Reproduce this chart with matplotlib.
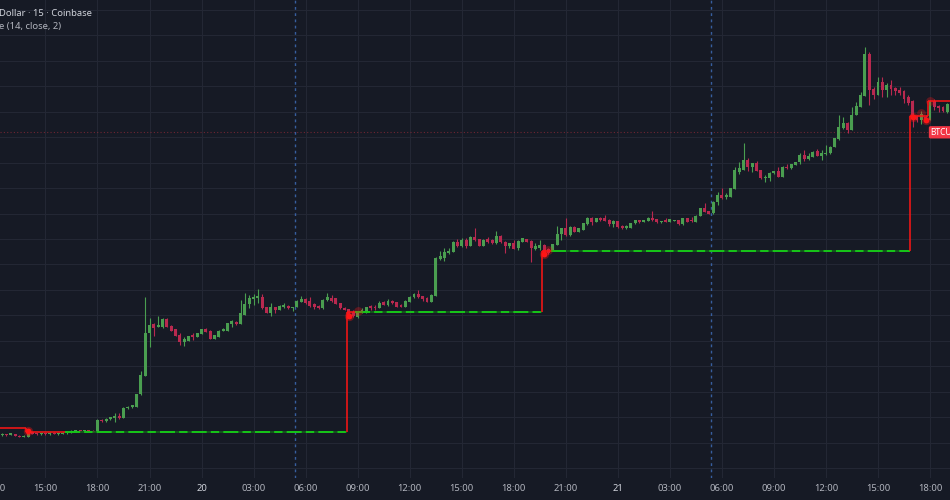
import matplotlib
matplotlib.use("Agg")
import matplotlib.pyplot as plt
import matplotlib.transforms as mtransforms
import numpy as np
import pandas as pd

# BTC/USD 15 min candles, 19 Nov 12:30 -> 21 Nov 19:00
opens = [91140, 91160, 91150, 91160, 91130, 91110, 91110, 91200, 91180, 91160,
         91180, 91160, 91190, 91160, 91170, 91180, 91200, 91220, 91240, 91220,
         91240, 91230, 91210, 91445, 91415, 91454, 91474, 91513, 91483, 91670,
         91690, 91709, 91945, 92318, 93144, 93321, 93271, 93262, 93438, 93291,
         93226, 93114, 92977, 93002, 93114, 93081, 93134, 93226, 93199, 93042,
         93081, 93193, 93199, 93330, 93376, 93324, 93507, 93723, 93816, 93835,
         93867, 93659, 93552, 93670, 93606, 93659, 93684, 93639, 93659, 93769,
         93816, 93776, 93723, 93684, 93639, 93802, 93835, 93835, 93737, 93645,
         93619, 93566, 93462, 93560, 93560, 93690, 93670, 93639, 93757, 93704,
         93782, 93757, 93704, 93670, 93769, 93855, 93920, 93881, 93847, 93769,
         93887, 94608, 94633, 94720, 94751, 94948, 94869, 94981, 94869, 95046,
         95001, 94869, 95001, 94981, 94916, 95066, 94948, 94869, 94916, 94818,
         94948, 95001, 94961, 94804, 94818, 94883, 94804, 94785, 94883, 95093,
         95211, 95079, 95242, 95144, 95177, 95290, 95419, 95341, 95419, 95407,
         95374, 95290, 95354, 95262, 95211, 95223, 95309, 95374, 95341, 95354,
         95419, 95394, 95329, 95374, 95341, 95354, 95374, 95290, 95407, 95374,
         95341, 95458, 95616, 95551, 95506, 95734, 95865, 95832, 95832, 95983,
         96323, 96357, 96553, 96421, 96488, 96357, 96205, 96205, 96292, 96337,
         96225, 96421, 96390, 96455, 96508, 96651, 96573, 96618, 96730, 96638,
         96665, 96685, 96814, 96960, 97176, 97286, 97143, 97437, 97600, 97811,
         98636, 97942, 97830, 98091, 97929, 98027, 97961, 97929, 97914, 97785,
         97718, 97418, 97339, 97404, 97339, 97718, 97614, 97600, 97496]
highs = [91180, 91170, 91190, 91170, 91140, 91140, 91230, 91210, 91190, 91190,
         91190, 91200, 91200, 91190, 91200, 91220, 91240, 91250, 91250, 91250,
         91250, 91240, 91455, 91464, 91483, 91503, 91591, 91582, 91690, 91719,
         91739, 91955, 92397, 93851, 93449, 93350, 93488, 93448, 93448, 93301,
         93232, 93148, 93081, 93104, 93148, 93154, 93232, 93242, 93212, 93114,
         93212, 93242, 93350, 93409, 93389, 93802, 93945, 93900, 93920, 94012,
         93920, 93664, 93737, 93674, 93694, 93737, 93694, 93674, 93792, 93881,
         93835, 93855, 93749, 93694, 93812, 93934, 93900, 93841, 93743, 93655,
         93625, 93606, 93576, 93639, 93674, 93704, 93704, 93782, 93782, 93822,
         93802, 93763, 93714, 93792, 93881, 93934, 93999, 93887, 93867, 93910,
         94647, 94765, 94818, 94818, 94961, 95001, 95014, 95014, 95060, 95223,
         95010, 94991, 95046, 94991, 95158, 95073, 94952, 94922, 94981, 94981,
         95020, 95010, 94981, 94916, 94981, 94893, 94818, 94902, 95262, 95217,
         95407, 95250, 95250, 95217, 95315, 95427, 95439, 95413, 95427, 95472,
         95394, 95374, 95360, 95270, 95270, 95315, 95380, 95380, 95380, 95427,
         95551, 95400, 95360, 95419, 95400, 95380, 95380, 95413, 95413, 95439,
         95466, 95610, 95702, 95557, 95741, 95930, 95997, 95899, 96003, 96421,
         96508, 96881, 96586, 96494, 96533, 96362, 96258, 96311, 96343, 96421,
         96429, 96469, 96474, 96514, 96685, 96750, 96685, 96724, 96769, 96750,
         96848, 96822, 96985, 97437, 97392, 97306, 97600, 97699, 97895, 98768,
         98681, 97994, 98189, 98189, 98060, 98125, 97994, 97994, 97929, 97830,
         97732, 97437, 97522, 97437, 97732, 97746, 97634, 97614, 97673]
lows = [91130, 91130, 91140, 91120, 91100, 91100, 91100, 91160, 91150, 91150,
        91150, 91150, 91160, 91150, 91160, 91170, 91190, 91210, 91210, 91210,
        91210, 91200, 91200, 91405, 91395, 91444, 91395, 91464, 91474, 91660,
        91680, 91699, 91935, 92299, 92878, 93104, 93262, 93252, 93271, 93193,
        93095, 92918, 92898, 92987, 93016, 93075, 93124, 93173, 93036, 93026,
        93075, 93183, 93193, 93278, 93311, 93321, 93498, 93639, 93704, 93749,
        93619, 93547, 93488, 93552, 93596, 93639, 93631, 93576, 93655, 93763,
        93723, 93670, 93619, 93631, 93631, 93788, 93769, 93714, 93631, 93596,
        93474, 93462, 93449, 93540, 93552, 93606, 93606, 93635, 93694, 93690,
        93729, 93664, 93664, 93664, 93763, 93847, 93847, 93782, 93757, 93763,
        93881, 94588, 94568, 94700, 94745, 94849, 94849, 94830, 94863, 94971,
        94863, 94863, 94916, 94908, 94908, 94928, 94720, 94830, 94798, 94785,
        94942, 94942, 94543, 94785, 94785, 94692, 94700, 94775, 94873, 94981,
        95069, 95069, 95138, 95138, 95168, 95282, 95276, 95335, 95364, 95348,
        95262, 95242, 95211, 95203, 95203, 95217, 95301, 95321, 95335, 95348,
        95354, 95321, 95321, 95329, 95335, 95348, 95282, 95282, 95335, 95341,
        95335, 95452, 95531, 95486, 95498, 95669, 95787, 95787, 95826, 95977,
        96272, 96351, 96337, 96323, 96331, 96186, 96115, 96140, 96284, 96219,
        96219, 96382, 96382, 96449, 96469, 96533, 96553, 96612, 96626, 96553,
        96651, 96677, 96809, 96952, 97168, 97078, 97137, 97431, 97594, 97805,
        97634, 97746, 97824, 97797, 97797, 97830, 97830, 97830, 97667, 97634,
        97207, 97306, 97260, 97320, 97333, 97536, 97502, 97502, 97476]
closes = [91170, 91140, 91180, 91130, 91110, 91130, 91220, 91170, 91160, 91180,
          91160, 91190, 91170, 91180, 91190, 91210, 91230, 91240, 91220, 91240,
          91220, 91210, 91445, 91415, 91464, 91493, 91513, 91474, 91680, 91709,
          91729, 91945, 92328, 93144, 93311, 93252, 93301, 93438, 93281, 93199,
          93100, 92983, 93030, 93095, 93081, 93148, 93226, 93179, 93042, 93108,
          93199, 93232, 93344, 93395, 93324, 93540, 93723, 93835, 93855, 93881,
          93639, 93552, 93670, 93606, 93684, 93704, 93639, 93670, 93788, 93816,
          93749, 93684, 93659, 93639, 93802, 93855, 93788, 93723, 93639, 93606,
          93488, 93478, 93572, 93606, 93670, 93651, 93639, 93737, 93704, 93782,
          93737, 93670, 93670, 93782, 93867, 93914, 93855, 93822, 93769, 93900,
          94633, 94672, 94739, 94765, 94948, 94869, 94981, 94869, 95046, 94981,
          94869, 94981, 94936, 94916, 95066, 94936, 94869, 94916, 94804, 94961,
          95014, 94948, 94818, 94869, 94883, 94700, 94720, 94896, 95093, 95211,
          95079, 95242, 95144, 95211, 95309, 95419, 95329, 95407, 95374, 95354,
          95290, 95354, 95242, 95211, 95262, 95309, 95374, 95329, 95374, 95419,
          95374, 95329, 95354, 95341, 95394, 95374, 95290, 95407, 95341, 95354,
          95458, 95604, 95537, 95492, 95734, 95865, 95812, 95865, 95997, 96357,
          96390, 96553, 96421, 96488, 96337, 96193, 96225, 96292, 96337, 96225,
          96421, 96390, 96469, 96508, 96651, 96573, 96626, 96716, 96638, 96685,
          96685, 96814, 96979, 97196, 97286, 97143, 97437, 97614, 97830, 98636,
          97929, 97830, 98091, 97929, 98027, 97942, 97914, 97875, 97746, 97679,
          97404, 97339, 97457, 97339, 97718, 97600, 97569, 97522, 97653]

# indicator (14, close, 2): step levels per candle range
stop_start = [0, 6, 15, 80, 82, 125, 127, 210, 214]
stop_end = [5, 14, 79, 81, 124, 126, 209, 213, 218]
stop_level = [91281, 91208, 91208, 93566, 93566, 94755, 94755, 97418, 97718]
stop_up = [False, False, True, False, True, False, True, False, False]

signal_idx = [6, 80, 125, 210, 213]
signal_px = [91218, 93488, 94700, 97404, 97339]
glow_idx = [82, 126, 212, 214]
glow_px = [93576, 94785, 97470, 97718]

compare_price = 97097
session_breaks = ["2024-11-20 05:22:30", "2024-11-21 05:22:30"]

BG = "#161a25"
GRID = "#232734"
UP = "#4a9e50"
DOWN = "#b8294f"
RED = "#ff1515"
GREEN = "#18d818"
DARK_GREEN = "#12621a"
TXT = "#b2b5be"

plt.rcParams["font.family"] = ["Noto Sans", "DejaVu Sans"]

times = pd.date_range("2024-11-19 12:30", periods=len(closes), freq="15min")
idx = np.arange(len(closes))
o = np.array(opens)
h = np.array(highs)
l = np.array(lows)
c = np.array(closes)

fig = plt.figure(figsize=(9.5, 5), dpi=100, facecolor=BG)
ax = fig.add_axes([0, 22 / 500, 1, 478 / 500])
ax.set_facecolor(BG)

col = np.where(c >= o, UP, DOWN)
ax.vlines(idx, l, h, colors=col, linewidth=0.8, zorder=3)
ax.bar(idx, np.maximum(np.abs(c - o), 15), bottom=np.minimum(o, c),
       width=0.68, color=col, linewidth=0, zorder=4)

# step line of the indicator
for k in range(len(stop_level)):
    x0, x1 = stop_start[k] - 0.5, stop_end[k] + 0.5
    lv = stop_level[k]
    if stop_up[k]:
        ax.hlines(lv, x0, x1, color=DARK_GREEN, lw=1.2, zorder=5)
        ax.plot([x0, x1], [lv, lv], color=GREEN, lw=1.2,
                dashes=(9, 2.5, 5, 2.5), zorder=6)
    else:
        ax.hlines(lv, x0, x1, color=RED, lw=1.1, zorder=6)
    if k > 0 and stop_level[k - 1] != lv:
        ax.vlines(x0, stop_level[k - 1], lv, color=RED, lw=1.1, zorder=6)

ax.scatter(glow_idx, glow_px, s=40, color=RED, alpha=0.3, linewidths=0, zorder=7)
ax.scatter(signal_idx, signal_px, s=45, color=RED, alpha=0.35, linewidths=0, zorder=7)
ax.scatter(signal_idx, signal_px, s=18, color=RED, linewidths=0, zorder=8)

ax.axhline(compare_price, color="#f23645", lw=0.8, ls=(0, (1, 2)), alpha=0.4, zorder=2)
for t in session_breaks:
    xb = (pd.Timestamp(t) - times[0]) / pd.Timedelta("15min")
    ax.axvline(xb, color="#3b66ad", lw=1, ls=(0, (2, 2.5)), alpha=0.9, zorder=2)

# time axis
tick_idx = [i for i, t in enumerate(times) if t.minute == 0 and t.hour % 3 == 0]
ax.set_xticks(tick_idx)
ax.set_xticklabels([])
ax.set_yticks(np.arange(90500, 99501, 500))
ax.set_yticklabels([])
ax.tick_params(length=0)
ax.grid(True, color=GRID, lw=0.8, zorder=0)
ax.set_axisbelow(True)
for s in ax.spines.values():
    s.set_visible(False)

xt = ax.get_xaxis_transform()
first = times[0] - pd.Timedelta("30min")
ax.text(-2, -0.023, first.strftime("%H:%M"), transform=xt, ha="center",
        va="center", fontsize=6.8, color=TXT, clip_on=False)
for i in tick_idx:
    t = times[i]
    if t.hour == 0:
        ax.text(i, -0.023, str(t.day), transform=xt, ha="center", va="center",
                fontsize=6.8, fontweight="bold", color="#d1d4dc", clip_on=False)
    else:
        ax.text(i, -0.023, t.strftime("%H:%M"), transform=xt, ha="center",
                va="center", fontsize=6.8, color=TXT, clip_on=False)

ax.set_xlim(-0.48, 218.61)
ax.set_ylim(90304, 99697)

# price tag at right edge
bt = mtransforms.blended_transform_factory(ax.transAxes, ax.transData)
ax.text(930.5 / 950, compare_price, "BTCUSD", transform=bt, ha="left", va="center",
        fontsize=6, fontweight="bold", color="white", clip_on=False, zorder=9,
        bbox=dict(boxstyle="round,pad=0.2", fc="#f23645", ec="none"))

fig.text(-0.001, 1 - 13 / 500, "Dollar · 15 · Coinbase", ha="left", va="center",
         fontsize=6.8, fontweight="bold", color="#d1d4dc")
fig.text(-0.001, 1 - 26 / 500, "e (14, close, 2)", ha="left", va="center",
         fontsize=6.8, color=TXT)

fig.savefig("out.png", dpi=100, facecolor=BG)
